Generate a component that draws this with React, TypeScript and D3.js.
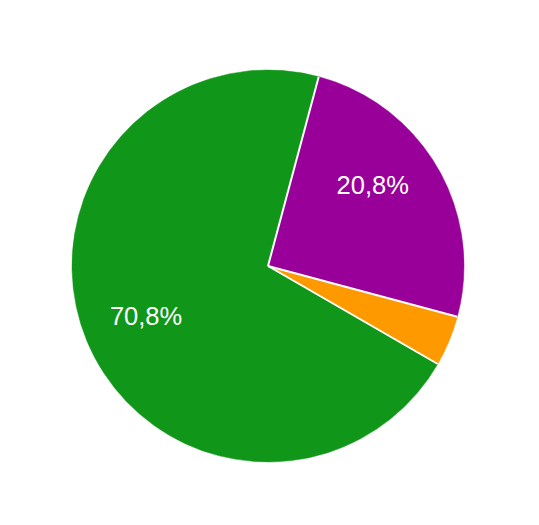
import React from 'react';
import * as d3 from 'd3';

// slices in drawing order (clockwise from the start angle)
const sliceNames = ['C', 'A', 'B', 'D'];
const sliceValues = [1, 17, 5, 1];
const sliceColors = ['#ff9900', '#109618', '#990099', '#990099'];
const sliceLabels = ['', '70,8%', '20,8%', ''];

const width = 539;
const height = 525;

const App: React.FC = () => {
  const cx = 268;
  const cy = 266;
  const radius = 196;
  const startAngle = (105 * Math.PI) / 180;

  const pie = d3
    .pie<number>()
    .sort(null)
    .value((d) => d)
    .startAngle(startAngle)
    .endAngle(startAngle + 2 * Math.PI);
  const arcs = pie(sliceValues);

  const arc = d3.arc<d3.PieArcDatum<number>>().innerRadius(0).outerRadius(radius);
  const labelArc = d3.arc<d3.PieArcDatum<number>>().innerRadius(132).outerRadius(132);

  // white separators only where the colour changes
  const separators = arcs.filter((a, i) => {
    const prev = (i - 1 + arcs.length) % arcs.length;
    return sliceColors[prev] !== sliceColors[i];
  });

  return (
    <svg
      width={width}
      height={height}
      style={{ position: 'absolute', left: 0, top: 0, background: '#fff' }}
    >
      <g transform={`translate(${cx},${cy})`}>
        {arcs.map((a, i) => (
          <path key={sliceNames[i]} d={arc(a) ?? ''} fill={sliceColors[i]} stroke={sliceColors[i]} strokeWidth={0.5} />
        ))}
        {separators.map((a, i) => (
          <line
            key={i}
            x1={0}
            y1={0}
            x2={radius * Math.sin(a.startAngle)}
            y2={-radius * Math.cos(a.startAngle)}
            stroke="#fff"
            strokeWidth={2}
          />
        ))}
        {arcs.map((a, i) => {
          if (!sliceLabels[i]) return null;
          const [x, y] = labelArc.centroid(a);
          return (
            <text
              key={'l' + i}
              x={x}
              y={y}
              dy="0.34em"
              textAnchor="middle"
              fill="#fff"
              fontFamily="'Liberation Sans', Arial, sans-serif"
              fontSize={25.5}
            >
              {sliceLabels[i]}
            </text>
          );
        })}
      </g>
    </svg>
  );
};

export default App;
